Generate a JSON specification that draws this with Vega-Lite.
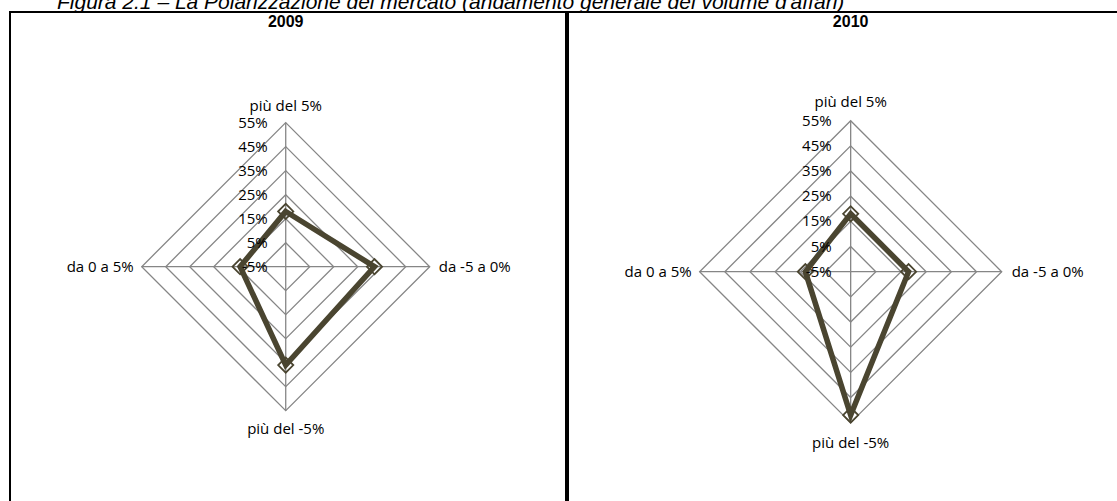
{
  "$schema": "https://vega.github.io/schema/vega-lite/v6.json",
  "padding": {"left": 9, "top": -8, "right": -2, "bottom": -11},
  "background": "white",
  "config": {"view": {"stroke": "#000000", "strokeWidth": 2}},
  "title": {"text": "Figura 2.1 – La Polarizzazione del mercato (andamento generale del volume d'affari)", "anchor": "start", "dx": 48, "offset": -19, "baseline": "alphabetic", "font": "Liberation Sans", "fontStyle": "italic", "fontWeight": "normal", "fontSize": 21, "color": "#000000"},
  "datasets": {
    "levels": [
      {"level": -5, "k": [0, 1, 2, 3]},
      {"level": 5, "k": [0, 1, 2, 3]},
      {"level": 15, "k": [0, 1, 2, 3]},
      {"level": 25, "k": [0, 1, 2, 3]},
      {"level": 35, "k": [0, 1, 2, 3]},
      {"level": 45, "k": [0, 1, 2, 3]},
      {"level": 55, "k": [0, 1, 2, 3]}
    ],
    "axes": [
      {"axis": "più del 5%", "k": 0},
      {"axis": "da -5 a 0%", "k": 1},
      {"axis": "più del -5%", "k": 2},
      {"axis": "da 0 a 5%", "k": 3}
    ],
    "panels": [
      {"year": "2009"},
      {"year": "2010"}
    ],
    "values": [
      {"year": "2009", "axis": "più del 5%", "k": 0, "pct": 18},
      {"year": "2009", "axis": "da -5 a 0%", "k": 1, "pct": 32},
      {"year": "2009", "axis": "più del -5%", "k": 2, "pct": 36},
      {"year": "2009", "axis": "da 0 a 5%", "k": 3, "pct": 14},
      {"year": "2010", "axis": "più del 5%", "k": 0, "pct": 18},
      {"year": "2010", "axis": "da -5 a 0%", "k": 1, "pct": 18},
      {"year": "2010", "axis": "più del -5%", "k": 2, "pct": 52},
      {"year": "2010", "axis": "da 0 a 5%", "k": 3, "pct": 13}
    ]
  },
  "spacing": 0,
  "resolve": {"scale": {"x": "independent", "y": "independent"}},
  "hconcat": [
    {
      "width": 556,
      "height": 500,
      "encoding": {
        "x": {"field": "x", "type": "quantitative", "scale": {"domain": [-114.9, 116.8], "nice": false, "zero": false}, "axis": null},
        "y": {"field": "y", "type": "quantitative", "scale": {"domain": [-102.2, 106.1], "nice": false, "zero": false}, "axis": null}
      },
      "layer": [
        {
          "data": {"name": "levels"},
          "transform": [{"filter": "datum.level > -5"}, {"flatten": ["k"]}, {"calculate": "(datum.level + 5) * sin(datum.k * PI / 2)", "as": "x"}, {"calculate": "(datum.level + 5) * cos(datum.k * PI / 2)", "as": "y"}],
          "mark": {"type": "line", "interpolate": "linear-closed", "color": "#868686", "strokeWidth": 1.3},
          "encoding": {"detail": {"field": "level"}, "order": {"field": "k"}}
        },
        {
          "data": {"name": "axes"},
          "transform": [{"calculate": "60 * sin(datum.k * PI / 2)", "as": "x"}, {"calculate": "60 * cos(datum.k * PI / 2)", "as": "y"}],
          "mark": {"type": "rule", "color": "#868686", "strokeWidth": 1.3},
          "encoding": {"x2": {"datum": 0}, "y2": {"datum": 0}}
        },
        {
          "data": {"name": "values"},
          "transform": [{"filter": "datum.year == '2009'"}, {"calculate": "(datum.pct + 5) * sin(datum.k * PI / 2)", "as": "x"}, {"calculate": "(datum.pct + 5) * cos(datum.k * PI / 2)", "as": "y"}],
          "mark": {"type": "line", "interpolate": "linear-closed", "color": "#4a4530", "strokeWidth": 5.5},
          "encoding": {"order": {"field": "k"}}
        },
        {
          "data": {"name": "values"},
          "transform": [{"filter": "datum.year == '2009'"}, {"calculate": "(datum.pct + 5) * sin(datum.k * PI / 2)", "as": "x"}, {"calculate": "(datum.pct + 5) * cos(datum.k * PI / 2)", "as": "y"}],
          "mark": {"type": "point", "shape": "diamond", "filled": false, "size": 230, "color": "#4a4530", "strokeWidth": 1.8, "opacity": 1}
        },
        {
          "data": {"name": "levels"},
          "transform": [{"calculate": "0", "as": "x"}, {"calculate": "datum.level + 5", "as": "y"}, {"calculate": "datum.level + '%'", "as": "lab"}],
          "mark": {"type": "text", "align": "right", "baseline": "middle", "dx": -18, "font": "Open Sans", "fontSize": 15, "color": "#000000"},
          "encoding": {"text": {"field": "lab"}}
        },
        {
          "data": {"name": "axes"},
          "transform": [{"filter": "datum.k == 0"}, {"calculate": "0", "as": "x"}, {"calculate": "60", "as": "y"}],
          "mark": {"type": "text", "align": "center", "baseline": "middle", "dy": -17, "font": "Open Sans", "fontSize": 15, "color": "#000000"},
          "encoding": {"text": {"field": "axis"}}
        },
        {
          "data": {"name": "axes"},
          "transform": [{"filter": "datum.k == 1"}, {"calculate": "60", "as": "x"}, {"calculate": "0", "as": "y"}],
          "mark": {"type": "text", "align": "left", "baseline": "middle", "dx": 9, "font": "Open Sans", "fontSize": 15, "color": "#000000"},
          "encoding": {"text": {"field": "axis"}}
        },
        {
          "data": {"name": "axes"},
          "transform": [{"filter": "datum.k == 2"}, {"calculate": "0", "as": "x"}, {"calculate": "-60", "as": "y"}],
          "mark": {"type": "text", "align": "center", "baseline": "middle", "dy": 18, "font": "Open Sans", "fontSize": 15, "color": "#000000"},
          "encoding": {"text": {"field": "axis"}}
        },
        {
          "data": {"name": "axes"},
          "transform": [{"filter": "datum.k == 3"}, {"calculate": "-60", "as": "x"}, {"calculate": "0", "as": "y"}],
          "mark": {"type": "text", "align": "right", "baseline": "middle", "dx": -8, "font": "Open Sans", "fontSize": 15, "color": "#000000"},
          "encoding": {"text": {"field": "axis"}}
        },
        {
          "data": {"name": "panels"},
          "transform": [{"filter": "datum.year == '2009'"}, {"calculate": "0", "as": "x"}, {"calculate": "99.8", "as": "y"}],
          "mark": {"type": "text", "align": "center", "baseline": "alphabetic", "font": "Liberation Sans", "fontWeight": "bold", "fontSize": 16, "color": "#000000"},
          "encoding": {"text": {"field": "year"}}
        }
      ]
    },
    {
      "width": 553,
      "height": 500,
      "encoding": {
        "x": {"field": "x", "type": "quantitative", "scale": {"domain": [-112.3, 107.4], "nice": false, "zero": false}, "axis": null},
        "y": {"field": "y", "type": "quantitative", "scale": {"domain": [-95.5, 103.2], "nice": false, "zero": false}, "axis": null}
      },
      "layer": [
        {
          "data": {"name": "levels"},
          "transform": [{"filter": "datum.level > -5"}, {"flatten": ["k"]}, {"calculate": "(datum.level + 5) * sin(datum.k * PI / 2)", "as": "x"}, {"calculate": "(datum.level + 5) * cos(datum.k * PI / 2)", "as": "y"}],
          "mark": {"type": "line", "interpolate": "linear-closed", "color": "#868686", "strokeWidth": 1.3},
          "encoding": {"detail": {"field": "level"}, "order": {"field": "k"}}
        },
        {
          "data": {"name": "axes"},
          "transform": [{"calculate": "60 * sin(datum.k * PI / 2)", "as": "x"}, {"calculate": "60 * cos(datum.k * PI / 2)", "as": "y"}],
          "mark": {"type": "rule", "color": "#868686", "strokeWidth": 1.3},
          "encoding": {"x2": {"datum": 0}, "y2": {"datum": 0}}
        },
        {
          "data": {"name": "values"},
          "transform": [{"filter": "datum.year == '2010'"}, {"calculate": "(datum.pct + 5) * sin(datum.k * PI / 2)", "as": "x"}, {"calculate": "(datum.pct + 5) * cos(datum.k * PI / 2)", "as": "y"}],
          "mark": {"type": "line", "interpolate": "linear-closed", "color": "#4a4530", "strokeWidth": 5.5},
          "encoding": {"order": {"field": "k"}}
        },
        {
          "data": {"name": "values"},
          "transform": [{"filter": "datum.year == '2010'"}, {"calculate": "(datum.pct + 5) * sin(datum.k * PI / 2)", "as": "x"}, {"calculate": "(datum.pct + 5) * cos(datum.k * PI / 2)", "as": "y"}],
          "mark": {"type": "point", "shape": "diamond", "filled": false, "size": 230, "color": "#4a4530", "strokeWidth": 1.8, "opacity": 1}
        },
        {
          "data": {"name": "levels"},
          "transform": [{"calculate": "0", "as": "x"}, {"calculate": "datum.level + 5", "as": "y"}, {"calculate": "datum.level + '%'", "as": "lab"}],
          "mark": {"type": "text", "align": "right", "baseline": "middle", "dx": -19, "font": "Open Sans", "fontSize": 15, "color": "#000000"},
          "encoding": {"text": {"field": "lab"}}
        },
        {
          "data": {"name": "axes"},
          "transform": [{"filter": "datum.k == 0"}, {"calculate": "0", "as": "x"}, {"calculate": "60", "as": "y"}],
          "mark": {"type": "text", "align": "center", "baseline": "middle", "dy": -19, "font": "Open Sans", "fontSize": 15, "color": "#000000"},
          "encoding": {"text": {"field": "axis"}}
        },
        {
          "data": {"name": "axes"},
          "transform": [{"filter": "datum.k == 1"}, {"calculate": "60", "as": "x"}, {"calculate": "0", "as": "y"}],
          "mark": {"type": "text", "align": "left", "baseline": "middle", "dx": 10, "font": "Open Sans", "fontSize": 15, "color": "#000000"},
          "encoding": {"text": {"field": "axis"}}
        },
        {
          "data": {"name": "axes"},
          "transform": [{"filter": "datum.k == 2"}, {"calculate": "0", "as": "x"}, {"calculate": "-60", "as": "y"}],
          "mark": {"type": "text", "align": "center", "baseline": "middle", "dy": 20, "font": "Open Sans", "fontSize": 15, "color": "#000000"},
          "encoding": {"text": {"field": "axis"}}
        },
        {
          "data": {"name": "axes"},
          "transform": [{"filter": "datum.k == 3"}, {"calculate": "-60", "as": "x"}, {"calculate": "0", "as": "y"}],
          "mark": {"type": "text", "align": "right", "baseline": "middle", "dx": -8, "font": "Open Sans", "fontSize": 15, "color": "#000000"},
          "encoding": {"text": {"field": "axis"}}
        },
        {
          "data": {"name": "panels"},
          "transform": [{"filter": "datum.year == '2010'"}, {"calculate": "0", "as": "x"}, {"calculate": "97.2", "as": "y"}],
          "mark": {"type": "text", "align": "center", "baseline": "alphabetic", "font": "Liberation Sans", "fontWeight": "bold", "fontSize": 16, "color": "#000000"},
          "encoding": {"text": {"field": "year"}}
        }
      ]
    }
  ]
}
